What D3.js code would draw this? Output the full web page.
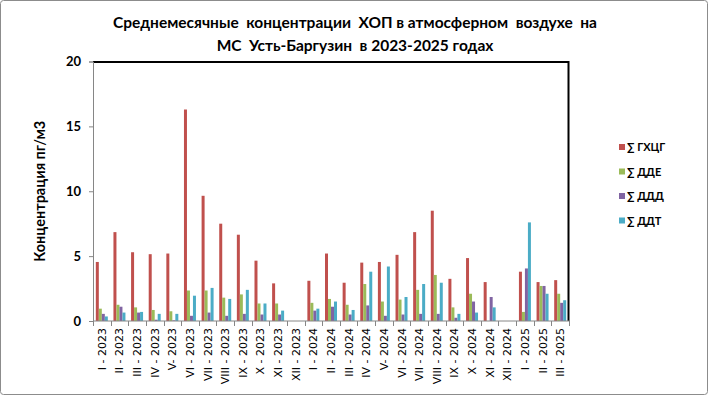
<!DOCTYPE html>
<html lang='ru'>
  <head>
    <meta charset='utf-8'>
    <title>ХОП Усть-Баргузин</title>
    <script type='text/javascript' src='https://cdn.jsdelivr.net/npm/d3@7'></script>
    <style type='text/css'>
      body { margin: 0; background: white; }
      svg { font-family: Lato, 'Open Sans', sans-serif; display: block; }
    </style>
  </head>
  <body>
    <div id='chart'></div>
    <script type='text/javascript'>

    // months
    var months = ['I - 2023', 'II - 2023', 'III - 2023', 'IV - 2023', 'V- 2023', 'VI - 2023',
      'VII - 2023', 'VIII - 2023', 'IX - 2023', 'X - 2023', 'XI - 2023', 'XII - 2023',
      'I - 2024', 'II - 2024', 'III - 2024', 'IV - 2024', 'V- 2024', 'VI - 2024',
      'VII - 2024', 'VIII - 2024', 'IX - 2024', 'X - 2024', 'XI - 2024', 'XII - 2024',
      'I - 2025', 'II - 2025', 'III - 2025'];

    var seriesNames = ['∑ ГХЦГ', '∑ ДДЕ', '∑ ДДД', '∑ ДДТ'];

    // values (null = no data)
    var hch = [4.55, 6.85, 5.3, 5.15, 5.2, 16.3, 9.65, 7.5, 6.65, 4.65, 2.9, null,
      3.1, 5.2, 2.95, 4.5, 4.55, 5.1, 6.85, 8.5, 3.25, 4.85, 3.0, null,
      3.8, 3.0, 3.15];
    var dde = [0.95, 1.25, 1.05, 0.85, 0.75, 2.35, 2.35, 1.8, 2.05, 1.35, 1.35, null,
      1.4, 1.7, 1.25, 2.85, 1.5, 1.65, 2.4, 3.55, 1.05, 2.1, 0, null,
      0.7, 2.7, 2.1];
    var ddd = [0.55, 1.1, 0.65, 0.1, 0.05, 0.4, 0.65, 0.4, 0.55, 0.5, 0.5, null,
      0.8, 1.1, 0.5, 1.2, 0.4, 0.5, 0.55, 0.55, 0.25, 1.5, 1.85, null,
      4.05, 2.7, 1.4];
    var ddt = [0.35, 0.65, 0.7, 0.55, 0.55, 1.95, 2.55, 1.7, 2.4, 1.35, 0.8, null,
      0.95, 1.5, 0.85, 3.8, 4.2, 1.85, 2.85, 2.95, 0.55, 0.65, 1.05, null,
      7.6, 2.1, 1.6];

    var yTicks = [0, 5, 10, 15, 20];
    var colors = ['#C0504D', '#9BBB59', '#8064A2', '#4BACC6'];

    var series = [hch, dde, ddd, ddt];

    var W = 710, H = 396;
    var margin = { top: 61.5, right: 142, bottom: 75, left: 93 };
    var width = 569 - margin.left,
        height = 321 - margin.top;

    var svg = d3.select('#chart').append('svg')
      .attr('width', W)
      .attr('height', H);

    // outer frame
    svg.append('rect')
      .attr('x', 0.5).attr('y', 0.5)
      .attr('width', W - 3).attr('height', H - 2)
      .attr('rx', 3)
      .attr('fill', 'white')
      .attr('stroke', '#8c8c8c');

    // title (keeps the double spaces of the original)
    var title = svg.append('text')
      .attr('text-anchor', 'middle')
      .style('white-space', 'pre')
      .style('font-weight', 'bold')
      .style('font-size', '15.5px');
    title.append('tspan').attr('x', 355).attr('y', 28)
      .text('Среднемесячные  концентрации  ХОП в атмосферном  воздухе  на');
    title.append('tspan').attr('x', 355).attr('y', 51)
      .text('МС  Усть-Баргузин  в 2023-2025 годах');

    var g = svg.append('g')
      .attr('transform', 'translate(' + margin.left + ',' + margin.top + ')');

    // scales
    var x0 = d3.scaleBand().domain(months).range([0, width]).paddingInner(0.32).paddingOuter(0.16);
    var x1 = d3.scaleBand().domain(d3.range(4)).range([0, x0.bandwidth()]);
    var y = d3.scaleLinear().domain([0, 20]).range([height, 0]);

    // plot frame top/right
    g.append('path')
      .attr('d', 'M0,0.5H' + (width - 0.5) + 'V' + height)
      .attr('fill', 'none')
      .attr('stroke', 'black')
      .attr('stroke-width', 2);

    // bars
    var groups = g.selectAll('.grp')
      .data(months)
      .enter().append('g')
      .attr('class', 'grp')
      .attr('transform', function(d) { return 'translate(' + x0(d) + ',0)'; });

    groups.selectAll('rect')
      .data(function(d, i) {
        return series.map(function(s, k) { return { k: k, v: s[i] }; });
      })
      .enter().append('rect')
      .filter(function(d) { return d.v != null && d.v > 0; })
      .attr('x', function(d) { return x1(d.k); })
      .attr('width', x1.bandwidth())
      .attr('y', function(d) { return y(d.v); })
      .attr('height', function(d) { return height - y(d.v); })
      .attr('fill', function(d) { return colors[d.k]; });

    // y axis
    var yAxis = g.append('g')
      .call(d3.axisLeft(y).tickValues(yTicks).tickSize(4).tickPadding(8));
    yAxis.selectAll('path, line').attr('stroke', '#868686');
    yAxis.selectAll('text')
      .style('font-size', '13px')
      .style('font-weight', 'bold')
      .style('font-family', 'Lato, sans-serif')
      .attr('fill', 'black');

    // x axis: ticks between categories
    var step = x0.step();
    var xAxis = g.append('g').attr('transform', 'translate(0,' + height + ')');
    xAxis.append('line')
      .attr('x1', 0).attr('x2', width)
      .attr('stroke', '#868686');
    xAxis.selectAll('.tk')
      .data(d3.range(months.length + 1))
      .enter().append('line')
      .attr('x1', function(i) { return Math.round(i * step) + 0.5; })
      .attr('x2', function(i) { return Math.round(i * step) + 0.5; })
      .attr('y1', 0).attr('y2', 5)
      .attr('stroke', '#868686');
    xAxis.selectAll('.lbl')
      .data(months)
      .enter().append('text')
      .attr('transform', function(d) {
        return 'translate(' + (x0(d) + x0.bandwidth() / 2 + 4) + ',7) rotate(-90)';
      })
      .attr('text-anchor', 'end')
      .style('font-size', '11px')
      .style('font-family', "'DejaVu Sans', sans-serif")
      .text(function(d) { return d; });

    // y title
    svg.append('text')
      .attr('transform', 'translate(45,' + (margin.top + height / 2) + ') rotate(-90)')
      .attr('text-anchor', 'middle')
      .style('font-size', '14.5px')
      .style('font-weight', 'bold')
      .text('Концентрация пг/м3');

    // legend
    var legend = svg.append('g').attr('transform', 'translate(619,148)');
    var item = legend.selectAll('g')
      .data(seriesNames)
      .enter().append('g')
      .attr('transform', function(d, i) { return 'translate(0,' + (i * 24.5) + ')'; });
    item.append('rect')
      .attr('x', 0).attr('y', -4)
      .attr('width', 6).attr('height', 6)
      .attr('fill', function(d, i) { return colors[i]; });
    item.append('text')
      .attr('x', 8).attr('y', 3)
      .style('font-size', '11px')
      .style('font-weight', 'bold')
      .text(function(d) { return d; });

    </script>
  </body>
</html>
